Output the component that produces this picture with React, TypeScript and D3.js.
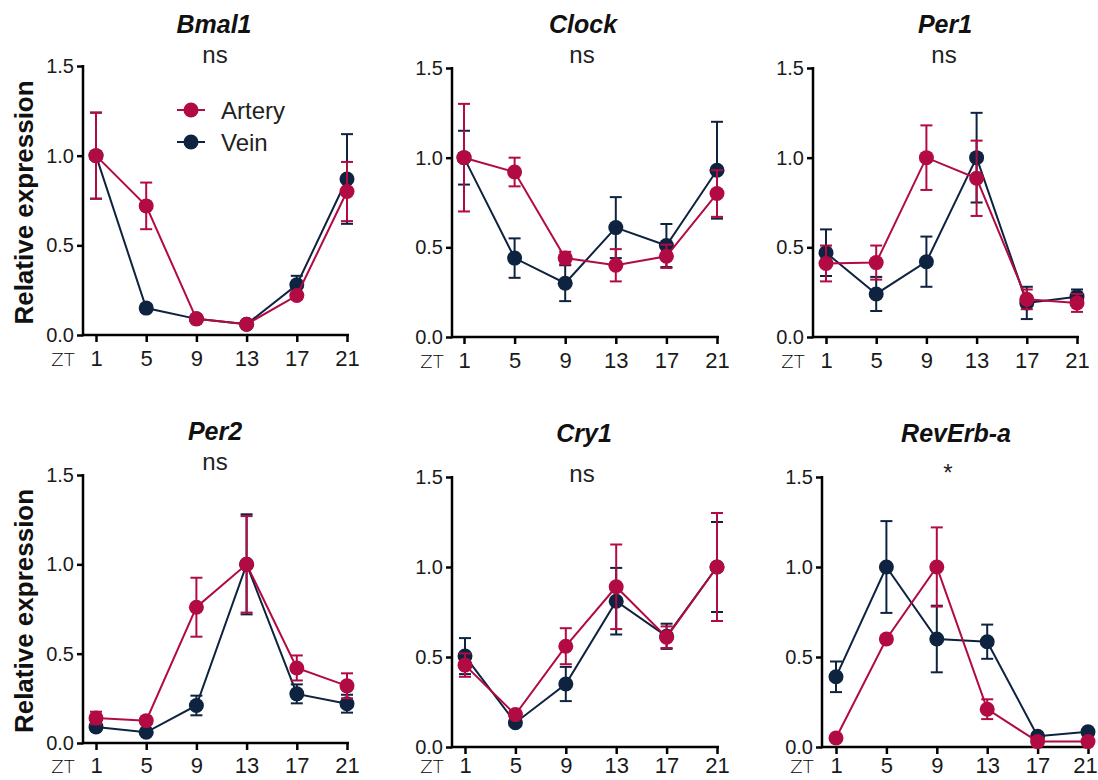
import React, { useEffect, useRef } from 'react';
import * as d3 from 'd3';

// ZT time points and y ticks
const zt = [1, 5, 9, 13, 17, 21];
const yTicks = [0, 0.5, 1.0, 1.5];

const genes = ['Bmal1', 'Clock', 'Per1', 'Per2', 'Cry1', 'RevErb-a'];
const stats = ['ns', 'ns', 'ns', 'ns', 'ns', '*'];
const seriesNames = ['Artery', 'Vein'];

const bmal1Artery = [1.0, 0.72, 0.09, 0.06, 0.22, 0.8];
const bmal1ArteryErr = [0.24, 0.13, 0.01, 0.01, 0.02, 0.165];
const bmal1Vein = [1.0, 0.15, 0.09, 0.06, 0.28, 0.87];
const bmal1VeinErr = [0.24, 0.02, 0.01, 0.01, 0.05, 0.25];

const clockArtery = [1.0, 0.92, 0.44, 0.4, 0.45, 0.8];
const clockArteryErr = [0.3, 0.08, 0.035, 0.09, 0.065, 0.13];
const clockVein = [1.0, 0.44, 0.3, 0.61, 0.51, 0.93];
const clockVeinErr = [0.15, 0.11, 0.1, 0.17, 0.12, 0.27];

const per1Artery = [0.41, 0.415, 1.0, 0.885, 0.21, 0.19];
const per1ArteryErr = [0.1, 0.095, 0.18, 0.21, 0.055, 0.05];
const per1Vein = [0.47, 0.24, 0.42, 1.0, 0.19, 0.225];
const per1VeinErr = [0.13, 0.095, 0.14, 0.25, 0.09, 0.04];

const per2Artery = [0.14, 0.125, 0.76, 1.0, 0.42, 0.32];
const per2ArteryErr = [0.035, 0.01, 0.165, 0.27, 0.07, 0.07];
const per2Vein = [0.09, 0.06, 0.21, 1.0, 0.275, 0.22];
const per2VeinErr = [0.02, 0.01, 0.055, 0.28, 0.053, 0.05];

const cry1Artery = [0.455, 0.18, 0.56, 0.89, 0.61, 1.0];
const cry1ArteryErr = [0.065, 0.02, 0.1, 0.235, 0.06, 0.3];
const cry1Vein = [0.505, 0.135, 0.35, 0.81, 0.615, 1.0];
const cry1VeinErr = [0.1, 0.01, 0.095, 0.185, 0.07, 0.25];

const revErbArtery = [0.05, 0.6, 1.0, 0.21, 0.03, 0.03];
const revErbArteryErr = [0.01, 0.02, 0.22, 0.055, 0.01, 0.01];
const revErbVein = [0.39, 1.0, 0.6, 0.585, 0.06, 0.085];
const revErbVeinErr = [0.085, 0.255, 0.185, 0.095, 0.01, 0.01];

const arteryData = [bmal1Artery, clockArtery, per1Artery, per2Artery, cry1Artery, revErbArtery];
const arteryErrs = [bmal1ArteryErr, clockArteryErr, per1ArteryErr, per2ArteryErr, cry1ArteryErr, revErbArteryErr];
const veinData = [bmal1Vein, clockVein, per1Vein, per2Vein, cry1Vein, revErbVein];
const veinErrs = [bmal1VeinErr, clockVeinErr, per1VeinErr, per2VeinErr, cry1VeinErr, revErbVeinErr];

const ARTERY = '#b20a42';
const VEIN = '#0d2340';
const FONT = "'Liberation Sans', Arial, sans-serif";
const W = 1098;

// panel placement (y axis x, first/last tick x, top/bottom of y range, title positions)
const layout = [
  { ax: 83, x1: 96, x2: 347, top: 66, bot: 335, tx: 214, ty: 33, sx: 215, sy: 63 },
  { ax: 452, x1: 464, x2: 717, top: 68, bot: 337, tx: 583, ty: 33, sx: 582, sy: 63 },
  { ax: 813, x1: 826, x2: 1077, top: 68, bot: 337, tx: 945, ty: 33, sx: 944, sy: 63 },
  { ax: 83, x1: 96, x2: 347, top: 475, bot: 743, tx: 215, ty: 440, sx: 215, sy: 470 },
  { ax: 452, x1: 465, x2: 717, top: 477, bot: 747, tx: 584, ty: 442, sx: 582, sy: 482 },
  { ax: 822, x1: 836, x2: 1088, top: 477, bot: 747, tx: 956, ty: 442, sx: 948, sy: 481 },
];

const Chart = () => {
  const svgRef = useRef(null);

  useEffect(() => {
    const svg = d3.select(svgRef.current);
    svg.selectAll('*').remove();

    genes.forEach((gene, i) => {
      const L = layout[i];
      const g = svg.append('g');

      const x = d3.scaleLinear().domain([1, 21]).range([L.x1, L.x2]);
      const y = d3.scaleLinear().domain([0, 1.5]).range([L.bot, L.top]);

      // y axis
      const yAxis = g.append('g')
        .attr('transform', `translate(${L.ax},0)`)
        .call(d3.axisLeft(y).tickValues(yTicks).tickFormat(d3.format('.1f')).tickSize(6).tickSizeOuter(0).tickPadding(3));
      yAxis.select('.domain').remove();
      yAxis.selectAll('line').attr('stroke', '#000').attr('stroke-width', 2.5);
      yAxis.selectAll('text')
        .attr('fill', '#1a1a1a')
        .style('font-family', FONT)
        .style('font-size', '20px');
      g.append('line')
        .attr('x1', L.ax).attr('x2', L.ax)
        .attr('y1', L.top - 1).attr('y2', L.bot + 1.25)
        .attr('stroke', '#000').attr('stroke-width', 2.5);

      // x axis; keep the bottom row labels inside the picture
      const labelBase = Math.min(L.bot + 31, 773);
      const xAxis = g.append('g')
        .attr('transform', `translate(0,${L.bot})`)
        .call(d3.axisBottom(x).tickValues(zt).tickFormat(d3.format('d')).tickSize(7).tickSizeOuter(0));
      xAxis.select('.domain').remove();
      xAxis.selectAll('line').attr('stroke', '#000').attr('stroke-width', 2.5);
      xAxis.selectAll('text')
        .attr('y', labelBase - L.bot)
        .attr('dy', null)
        .attr('x', (d) => Math.min(0, W - 13 - x(d as number)))
        .attr('fill', '#1a1a1a')
        .style('font-family', FONT)
        .style('font-size', '22px');
      g.append('line')
        .attr('x1', L.ax).attr('x2', L.x2 + 2)
        .attr('y1', L.bot).attr('y2', L.bot)
        .attr('stroke', '#000').attr('stroke-width', 2.5);

      g.append('text')
        .attr('x', L.ax - 20).attr('y', labelBase)
        .attr('text-anchor', 'middle')
        .attr('fill', '#000')
        .style('font-family', "'DejaVu Sans', sans-serif")
        .style('font-weight', 200)
        .style('font-size', '18px')
        .text('ZT');

      // title and significance
      g.append('text')
        .attr('x', L.tx).attr('y', L.ty)
        .attr('text-anchor', 'middle')
        .attr('fill', '#111')
        .style('font-family', FONT)
        .style('font-weight', 'bold')
        .style('font-style', 'italic')
        .style('font-size', '25px')
        .text(gene);
      g.append('text')
        .attr('x', L.sx).attr('y', L.sy)
        .attr('text-anchor', 'middle')
        .attr('fill', '#222')
        .style('font-family', FONT)
        .style('font-size', '24px')
        .text(stats[i]);

      if (i % 3 === 0) {
        g.append('text')
          .attr('transform', `translate(33,${(L.top + L.bot) / 2 + 2}) rotate(-90)`)
          .attr('text-anchor', 'middle')
          .attr('fill', '#111')
          .style('font-family', FONT)
          .style('font-weight', 'bold')
          .style('font-size', '26px')
          .text('Relative expression');
      }

      const series = [
        { values: veinData[i], errs: veinErrs[i], color: VEIN },
        { values: arteryData[i], errs: arteryErrs[i], color: ARTERY },
      ];

      const line = d3.line<number>()
        .x((d, j) => x(zt[j]))
        .y((d) => y(d));

      series.forEach((s) => {
        const sg = g.append('g');
        const pts = s.values.map((v, j) => ({ t: zt[j], v, e: s.errs[j] }));

        // error bars
        const eb = sg.selectAll('g.err').data(pts).join('g');
        eb.append('line')
          .attr('x1', (d) => x(d.t)).attr('x2', (d) => x(d.t))
          .attr('y1', (d) => y(d.v + d.e)).attr('y2', (d) => y(d.v - d.e))
          .attr('stroke', s.color).attr('stroke-width', 2);
        [1, -1].forEach((sign) => {
          eb.append('line')
            .attr('x1', (d) => x(d.t) - 6).attr('x2', (d) => x(d.t) + 6)
            .attr('y1', (d) => y(d.v + sign * d.e)).attr('y2', (d) => y(d.v + sign * d.e))
            .attr('stroke', s.color).attr('stroke-width', 2);
        });

        sg.append('path')
          .datum(s.values)
          .attr('fill', 'none')
          .attr('stroke', s.color)
          .attr('stroke-width', 2)
          .attr('d', line);

        sg.selectAll('circle').data(pts).join('circle')
          .attr('cx', (d) => x(d.t))
          .attr('cy', (d) => y(d.v))
          .attr('r', 7.5)
          .attr('fill', s.color);
      });

      // legend inside first panel
      if (i === 0) {
        const lg = g.append('g');
        [ARTERY, VEIN].forEach((c, k) => {
          const ly = 110 + k * 32;
          lg.append('line')
            .attr('x1', 177).attr('x2', 205)
            .attr('y1', ly).attr('y2', ly)
            .attr('stroke', c).attr('stroke-width', 2);
          lg.append('circle').attr('cx', 191).attr('cy', ly).attr('r', 7.5).attr('fill', c);
          lg.append('text')
            .attr('x', 221).attr('y', ly + 8.5)
            .attr('fill', '#222')
            .style('font-family', FONT)
            .style('font-size', '24px')
            .text(seriesNames[k]);
        });
      }
    });
  }, []);

  return (
    <svg
      ref={svgRef}
      width={W}
      height={780}
      style={{ position: 'absolute', left: 0, top: 0, background: '#fff' }}
    ></svg>
  );
};

export default function App() {
  return <Chart />;
}
